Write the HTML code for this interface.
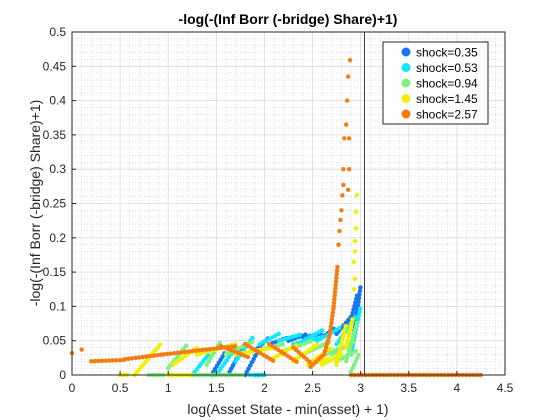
<!DOCTYPE html>
<html><head><meta charset="utf-8"><style>
body{margin:0;background:#fff;}
svg{display:block;font-family:"Liberation Sans",Arial,sans-serif;}
</style></head><body>
<svg id="chart" width="560" height="420">
<rect width="560" height="420" fill="#fff"/>
<rect x="72" y="32" width="433" height="343" fill="#fff" stroke="none"/>
<g id="grid"></g>
<g id="marks"></g>
<g id="axes"></g>
<text x="288" y="24" text-anchor="middle" font-size="14" font-weight="bold" fill="#000">-log(-(Inf Borr (-bridge) Share)+1)</text>
<text x="288" y="414" text-anchor="middle" font-size="14" fill="#262626">log(Asset State - min(asset) + 1)</text>
<text transform="translate(40,203) rotate(-90)" text-anchor="middle" font-size="14" fill="#262626">-log(-(Inf Borr (-bridge) Share)+1)</text>
<g id="legend"></g>
</svg>
<script>
const xTicks=[0,0.5,1,1.5,2,2.5,3,3.5,4,4.5];
const xTickLabels=["0","0.5","1","1.5","2","2.5","3","3.5","4","4.5"];
const yTicks=[0,0.05,0.1,0.15,0.2,0.25,0.3,0.35,0.4,0.45,0.5];
const yTickLabels=["0","0.05","0.1","0.15","0.2","0.25","0.3","0.35","0.4","0.45","0.5"];
const seriesNames=["shock=0.35","shock=0.53","shock=0.94","shock=1.45","shock=2.57"];
const seriesColors=["#1577f0","#10e8f8","#80f080","#f0f000","#f57c10"];
const vlineX=3.04;
// streaks: [x1,y1,x2,y2] per series
const blueStreaks=[[1.45,0,1.6,0.035],[1.62,0,1.78,0.042],[1.8,0,1.97,0.045],[1.9,0.035,2.05,0.055],[2.05,0.045,2.25,0.055],[2.25,0.05,2.45,0.06],[2.4,0.055,2.6,0.06],[2.6,0.055,2.75,0.07],[2.75,0.06,2.9,0.085],[2.88,0.07,2.97,0.12],[2.93,0.06,3.0,0.13],[1.9,0,2.0,0]];
const cyanStreaks=[[1.25,0,1.42,0.03],[1.5,0,1.7,0.04],[1.7,0.02,1.88,0.055],[1.95,0.045,2.15,0.06],[2.15,0.05,2.4,0.06],[2.4,0.05,2.6,0.065],[2.55,0.05,2.8,0.07],[2.75,0.045,2.95,0.085],[2.9,0.03,3.0,0.1],[1.85,0,2.0,0],[2.3,0.045,2.6,0.055]];
const greenStreaks=[[0.8,0,0.95,0],[1.0,0.01,1.2,0.045],[1.25,0,1.8,0],[1.4,0.015,1.55,0.05],[1.6,0.03,1.9,0.05],[1.9,0.035,2.2,0.045],[2.2,0.035,2.5,0.05],[2.4,0.03,2.7,0.05],[2.7,0.03,2.95,0.05],[2.85,0.02,2.97,0.08],[2.9,0.005,2.98,0.03],[2.55,0.025,2.8,0.04],[2.75,0.02,2.95,0.035]];
const yellowStreaks=[[0.5,0,0.6,0],[0.65,0,0.92,0.045],[1.0,0,1.25,0],[1.05,0.015,1.3,0.04],[1.3,0.03,1.7,0.045],[1.7,0.03,2.1,0.04],[2.1,0.025,2.35,0.045],[2.3,0.02,2.55,0.045],[2.5,0.02,2.7,0.04],[2.6,0.015,2.8,0.03],[2.75,0.015,2.85,0.075],[2.85,0.04,2.92,0.085],[2.45,0.015,2.7,0.025]];
const orangeStreaks=[[0.2,0.02,0.55,0.022],[0.55,0.023,0.95,0.03],[0.95,0.03,1.7,0.042],[1.55,0.042,1.85,0.025],[1.8,0.045,2.1,0.02],[2.05,0.045,2.35,0.018],[2.3,0.04,2.52,0.013],[2.48,0.012,2.62,0.03],[2.62,0.03,2.68,0.06],[2.68,0.06,2.72,0.1],[2.72,0.1,2.76,0.16],[2.9,0,4.25,0]];
const orangePoints=[[0,0.032],[0.1,0.037],[2.77,0.19],[2.78,0.21],[2.79,0.226],[2.8,0.24],[2.81,0.262],[2.82,0.277],[2.82,0.30],[2.83,0.345],[2.85,0.365],[2.86,0.40],[2.87,0.435],[2.89,0.459],[2.88,0.30],[2.88,0.345],[2.87,0.27]];
const yellowPoints=[[2.96,0.262],[2.95,0.238],[2.95,0.214],[2.94,0.195],[2.94,0.18],[2.93,0.165],[2.94,0.14],[2.93,0.125]];
const streaks=[blueStreaks,cyanStreaks,greenStreaks,yellowStreaks,orangeStreaks];
const points=[[],[],[],yellowPoints,orangePoints];

const X0=72,X1=505,Y0=375,Y1=32;
const sx=v=>X0+(v-0)/(4.5-0)*(X1-X0);
const sy=v=>Y0-(v-0)/(0.5-0)*(Y0-Y1);
const NS="http://www.w3.org/2000/svg";
function mk(tag,attrs,parent){const e=document.createElementNS(NS,tag);for(const k in attrs)e.setAttribute(k,attrs[k]);parent.appendChild(e);return e;}
const grid=document.getElementById('grid'),marks=document.getElementById('marks'),axes=document.getElementById('axes'),legend=document.getElementById('legend');
for(let i=1;i<45;i++){const x=sx(i*0.1);const l=mk('line',{x1:x,x2:x,y1:Y1,y2:Y0,stroke:'#c8c8c8','stroke-width':0.6,'stroke-dasharray':'1 2'},grid);}
for(let i=1;i<50;i++){const y=sy(i*0.01);const l=mk('line',{x1:X0,x2:X1,y1:y,y2:y,stroke:'#c8c8c8','stroke-width':0.6,'stroke-dasharray':'1 2'},grid);}
xTicks.forEach((t,i)=>{const x=sx(t);const l=mk('line',{x1:x,x2:x,y1:Y1,y2:Y0,stroke:'#dcdcdc','stroke-width':0.8},grid);
 const tk=mk('line',{x1:x,x2:x,y1:Y0,y2:Y0-4,stroke:'#262626'},axes);
 const tx=mk('text',{x:x,y:Y0+17,'text-anchor':'middle','font-size':12,fill:'#262626'},axes);tx.textContent=xTickLabels[i];});
yTicks.forEach((t,i)=>{const y=sy(t);const l=mk('line',{x1:X0,x2:X1,y1:y,y2:y,stroke:'#dcdcdc','stroke-width':0.8},grid);
 const tk=mk('line',{x1:X0,x2:X0+4,y1:y,y2:y,stroke:'#262626'},axes);
 const tx=mk('text',{x:X0-6,y:y+4,'text-anchor':'end','font-size':12,fill:'#262626'},axes);tx.textContent=yTickLabels[i];});
streaks.forEach((arr,si)=>{
 const g=mk('g',{},marks);
 arr.forEach(s=>{const l=mk('line',{x1:sx(s[0]),y1:sy(s[1]),x2:sx(s[2]),y2:sy(s[3]),stroke:seriesColors[si],'stroke-width':4.5,'stroke-linecap':'round','stroke-dasharray':'0 3.6'},g);});
 points[si].forEach(p=>{const c=mk('circle',{cx:sx(p[0]),cy:sy(p[1]),r:2.2,fill:seriesColors[si]},g);});
});
const vl=mk('line',{x1:sx(vlineX),x2:sx(vlineX),y1:Y1,y2:Y0,stroke:'#404040','stroke-width':1},marks);


const box=mk('rect',{x:X0,y:Y1,width:X1-X0,height:Y0-Y1,fill:'none',stroke:'#262626','stroke-width':1},axes);


const lb=mk('rect',{x:383,y:42,width:105,height:82,fill:'#fff',stroke:'#262626','stroke-width':1},legend);


seriesNames.forEach((n,i)=>{const y=52+i*15.5;const g=mk('g',{},legend);
 mk('circle',{cx:406,cy:y,r:4.5,fill:seriesColors[i]},g);
 const t=mk('text',{x:416,y:y+4.5,'font-size':12,fill:'#000'},g);t.textContent=n;});
</script>
</body></html>
